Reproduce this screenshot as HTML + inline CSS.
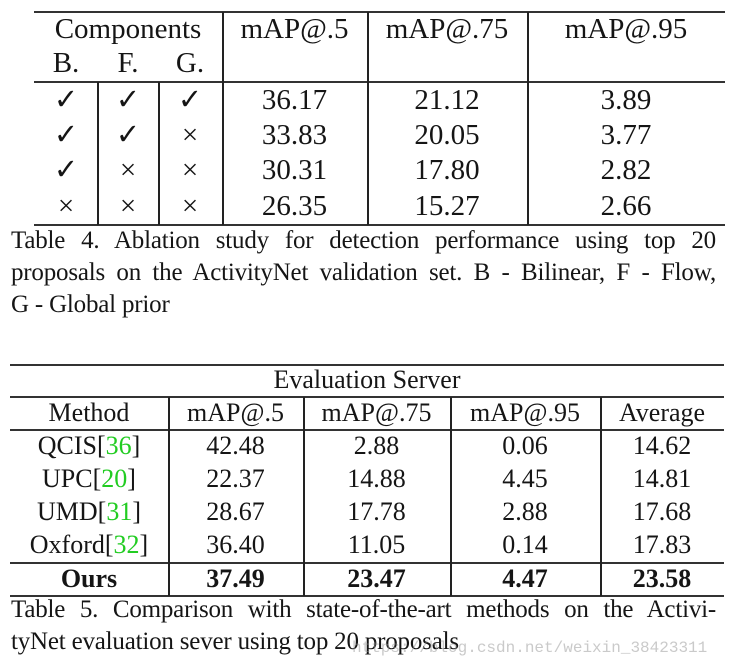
<!DOCTYPE html>
<html><head><meta charset="utf-8"><style>
body{margin:0;width:730px;height:668px;background:#fff;position:relative;overflow:hidden;font-family:"Liberation Serif",serif;color:#151515}
.t{position:absolute;text-align:center;white-space:nowrap;height:34px;line-height:34px;font-size:29px}
.s{font-size:26px}
.h{position:absolute;background:#333;height:2px}
.v{position:absolute;background:#222;width:1.5px}
.cap{position:absolute;left:11px;width:705px;font-size:25px;line-height:32px;text-align:justify;text-align-last:justify;white-space:nowrap;letter-spacing:-0.2px}
.g{color:#22cc22}
b{font-weight:bold}
</style></head><body>
<div>
<div class="h" style="left:34px;width:691px;top:11px"></div>
<div class="h" style="left:34px;width:691px;top:81px"></div>
<div class="h" style="left:34px;width:691px;top:224px"></div>
<div class="v" style="left:97px;top:82px;height:143px"></div>
<div class="v" style="left:158px;top:82px;height:143px"></div>
<div class="v" style="left:222px;top:12px;height:213px"></div>
<div class="v" style="left:367px;top:12px;height:213px"></div>
<div class="v" style="left:527px;top:12px;height:213px"></div>
<div class="t" style="left:34px;width:188px;top:12px">Components</div>
<div class="t" style="left:34px;width:64px;top:46px">B.</div>
<div class="t" style="left:98px;width:60px;top:46px">F.</div>
<div class="t" style="left:158px;width:64px;top:46px">G.</div>
<div class="t" style="left:222px;width:145px;top:12px">mAP@.5</div>
<div class="t" style="left:367px;width:160px;top:12px">mAP@.75</div>
<div class="t" style="left:527px;width:198px;top:12px">mAP@.95</div>

<div class="t" style="left:34px;width:64px;top:83px">✓</div>
<div class="t" style="left:98px;width:60px;top:83px">✓</div>
<div class="t" style="left:158px;width:64px;top:83px">✓</div>
<div class="t" style="left:222px;width:145px;top:83px">36.17</div>
<div class="t" style="left:367px;width:160px;top:83px">21.12</div>
<div class="t" style="left:527px;width:198px;top:83px">3.89</div>

<div class="t" style="left:34px;width:64px;top:118px">✓</div>
<div class="t" style="left:98px;width:60px;top:118px">✓</div>
<div class="t" style="left:158px;width:64px;top:118px">×</div>
<div class="t" style="left:222px;width:145px;top:118px">33.83</div>
<div class="t" style="left:367px;width:160px;top:118px">20.05</div>
<div class="t" style="left:527px;width:198px;top:118px">3.77</div>

<div class="t" style="left:34px;width:64px;top:153px">✓</div>
<div class="t" style="left:98px;width:60px;top:153px">×</div>
<div class="t" style="left:158px;width:64px;top:153px">×</div>
<div class="t" style="left:222px;width:145px;top:153px">30.31</div>
<div class="t" style="left:367px;width:160px;top:153px">17.80</div>
<div class="t" style="left:527px;width:198px;top:153px">2.82</div>

<div class="t" style="left:34px;width:64px;top:189px">×</div>
<div class="t" style="left:98px;width:60px;top:189px">×</div>
<div class="t" style="left:158px;width:64px;top:189px">×</div>
<div class="t" style="left:222px;width:145px;top:189px">26.35</div>
<div class="t" style="left:367px;width:160px;top:189px">15.27</div>
<div class="t" style="left:527px;width:198px;top:189px">2.66</div>
</div>

<div>
<div class="cap" style="top:225px">Table 4. Ablation study for detection performance using top 20</div>
<div class="cap" style="top:257px">proposals on the ActivityNet validation set. B - Bilinear, F - Flow,</div>
<div class="cap" style="top:289px;text-align-last:left">G - Global prior</div>
</div>

<div>
<div class="h" style="left:10px;width:714px;top:364px"></div>
<div class="h" style="left:10px;width:714px;top:396px"></div>
<div class="h" style="left:10px;width:714px;top:429px"></div>
<div class="h" style="left:10px;width:714px;top:562px"></div>
<div class="h" style="left:10px;width:714px;top:595px"></div>
<div class="v" style="left:168px;top:397px;height:199px"></div>
<div class="v" style="left:303px;top:397px;height:199px"></div>
<div class="v" style="left:450px;top:397px;height:199px"></div>
<div class="v" style="left:600px;top:397px;height:199px"></div>
<div class="t s" style="left:10px;width:714px;top:363px">Evaluation Server</div>
<div class="t s" style="left:10px;width:158px;top:396px">Method</div>
<div class="t s" style="left:168px;width:135px;top:396px">mAP@.5</div>
<div class="t s" style="left:303px;width:147px;top:396px">mAP@.75</div>
<div class="t s" style="left:450px;width:150px;top:396px">mAP@.95</div>
<div class="t s" style="left:600px;width:124px;top:396px">Average</div>

<div class="t s" style="left:10px;width:158px;top:429px">QCIS[<span class="g">36</span>]</div>
<div class="t s" style="left:168px;width:135px;top:429px">42.48</div>
<div class="t s" style="left:303px;width:147px;top:429px">2.88</div>
<div class="t s" style="left:450px;width:150px;top:429px">0.06</div>
<div class="t s" style="left:600px;width:124px;top:429px">14.62</div>

<div class="t s" style="left:10px;width:158px;top:462px">UPC[<span class="g">20</span>]</div>
<div class="t s" style="left:168px;width:135px;top:462px">22.37</div>
<div class="t s" style="left:303px;width:147px;top:462px">14.88</div>
<div class="t s" style="left:450px;width:150px;top:462px">4.45</div>
<div class="t s" style="left:600px;width:124px;top:462px">14.81</div>

<div class="t s" style="left:10px;width:158px;top:495px">UMD[<span class="g">31</span>]</div>
<div class="t s" style="left:168px;width:135px;top:495px">28.67</div>
<div class="t s" style="left:303px;width:147px;top:495px">17.78</div>
<div class="t s" style="left:450px;width:150px;top:495px">2.88</div>
<div class="t s" style="left:600px;width:124px;top:495px">17.68</div>

<div class="t s" style="left:10px;width:158px;top:528px">Oxford[<span class="g">32</span>]</div>
<div class="t s" style="left:168px;width:135px;top:528px">36.40</div>
<div class="t s" style="left:303px;width:147px;top:528px">11.05</div>
<div class="t s" style="left:450px;width:150px;top:528px">0.14</div>
<div class="t s" style="left:600px;width:124px;top:528px">17.83</div>

<div class="t s" style="left:10px;width:158px;top:562px"><b>Ours</b></div>
<div class="t s" style="left:168px;width:135px;top:562px"><b>37.49</b></div>
<div class="t s" style="left:303px;width:147px;top:562px"><b>23.47</b></div>
<div class="t s" style="left:450px;width:150px;top:562px"><b>4.47</b></div>
<div class="t s" style="left:600px;width:124px;top:562px"><b>23.58</b></div>
</div>

<div>
<div class="cap" style="top:594px">Table 5. Comparison with state-of-the-art methods on the Activi-</div>
<div class="cap" style="top:626px;text-align-last:left">tyNet evaluation sever using top 20 proposals</div>
</div>
<div style="position:absolute;left:352px;top:639px;font-size:16px;color:rgba(150,150,150,0.5);font-family:'Liberation Mono',monospace;white-space:nowrap">https://blog.csdn.net/weixin_38423311</div>
</body></html>
